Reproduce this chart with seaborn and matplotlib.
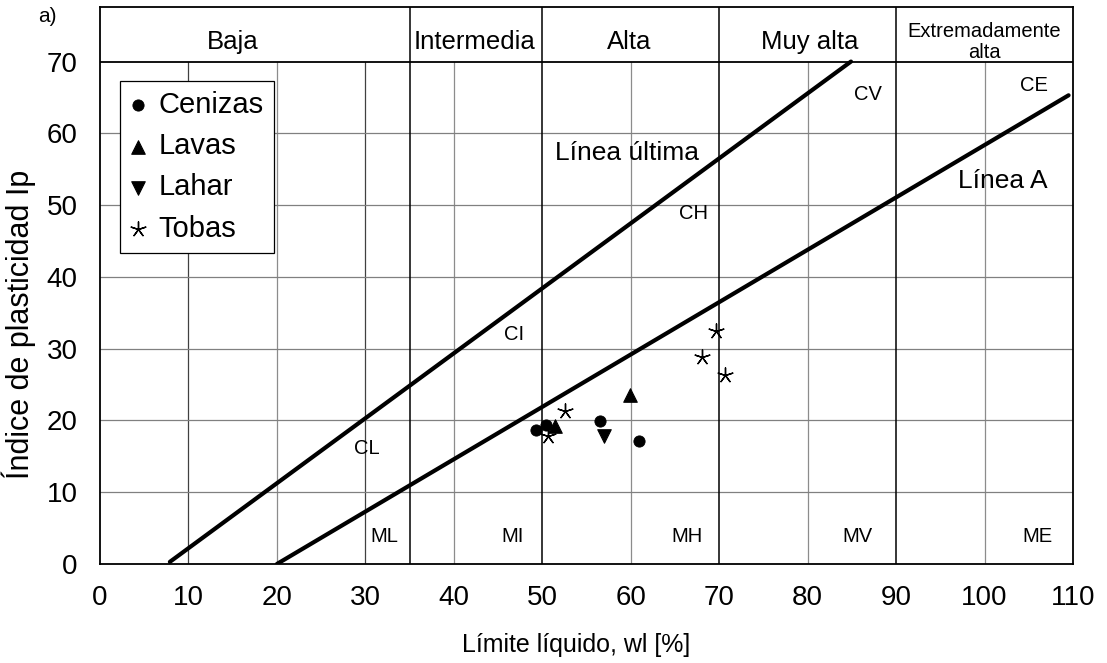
import numpy as np
import pandas as pd
import matplotlib
matplotlib.use("Agg")
import matplotlib.pyplot as plt
import matplotlib.ticker as mticker
import seaborn as sns

# Data
cenizas_wl = [49.3, 50.4, 56.5, 60.9]
cenizas_ip = [18.7, 19.3, 19.9, 17.2]
lavas_wl = [51.4, 59.9]
lavas_ip = [19.2, 23.6]
lahar_wl = [57.0]
lahar_ip = [17.8]
tobas_wl = [50.7, 52.6, 69.6, 68.1, 70.7]
tobas_ip = [17.8, 21.3, 32.5, 28.9, 26.4]

# Reference lines (end points)
linea_ultima_wl = [7.9, 84.9]
linea_ultima_ip = [0.3, 70]
linea_a_wl = [20, 109.5]
linea_a_ip = [0, 65.3]

zone_bounds = [35, 50, 70, 90]
zone_names = ["Baja", "Intermedia", "Alta", "Muy alta", "Extremadamente\nalta"]
zone_centers = [15, 42.3, 59.8, 80.2, 100]

soil_labels = ["CV", "CE", "CH", "CI", "CL", "ML", "MI", "MH", "MV", "ME"]
soil_x = [86.8, 105.6, 67.1, 46.8, 30.2, 32.1, 46.6, 66.4, 85.6, 106.0]
soil_y = [65.4, 66.6, 48.9, 32.0, 16.1, 3.8, 3.8, 3.8, 3.8, 3.8]

sns.set_style("white")
plt.rcParams['font.family'] = ['Liberation Sans', 'DejaVu Sans']
plt.rcParams['text.color'] = 'black'
plt.rcParams['axes.labelcolor'] = 'black'
plt.rcParams['xtick.color'] = 'black'
plt.rcParams['ytick.color'] = 'black'

fig = plt.figure(figsize=(11.07, 6.63), dpi=100)
ax = fig.add_axes([100 / 1107, 99 / 663, 973 / 1107, 557 / 663])

ymax = 77.6
ax.set_xlim(0, 110)
ax.set_ylim(0, ymax)

# Grid inside the data area
for gx in [10, 20, 30, 40, 60, 80, 100]:
    gc = '0.25' if gx in (10, 30) else '0.55'
    ax.plot([gx, gx], [0, 70], color=gc, lw=0.9, zorder=1)
for gy in [10, 20, 30, 40, 50, 60]:
    ax.plot([0, 110], [gy, gy], color='0.5', lw=0.9, zorder=1)

# Zone boundaries and header
for b in zone_bounds:
    ax.plot([b, b], [0, ymax], color='black', lw=1.1, zorder=2)
ax.plot([0, 110], [70, 70], color='black', lw=1.3, zorder=2)
for name, cx in zip(zone_names, zone_centers):
    fs = 14.5 if "\n" in name else 18.5
    ax.text(cx, 72.7, name, ha='center', va='center', fontsize=fs,
            linespacing=1.1)

# Plasticity lines
sns.lineplot(x=linea_ultima_wl, y=linea_ultima_ip, color='black', lw=3, ax=ax, zorder=3)
sns.lineplot(x=linea_a_wl, y=linea_a_ip, color='black', lw=3, ax=ax, zorder=3)
ax.text(59.6, 57.3, "Línea última", ha='center', va='center', fontsize=19)
ax.text(102.1, 53.3, "Línea A", ha='center', va='center', fontsize=19)

for lab, x, y in zip(soil_labels, soil_x, soil_y):
    ax.text(x, y, lab, ha='center', va='center', fontsize=14.5)

# Samples
sns.scatterplot(x=cenizas_wl, y=cenizas_ip, marker='o', s=65, color='black',
                edgecolor='black', label='Cenizas', ax=ax, zorder=4)
sns.scatterplot(x=lavas_wl, y=lavas_ip, marker='^', s=95, color='black',
                edgecolor='black', label='Lavas', ax=ax, zorder=4)
sns.scatterplot(x=lahar_wl, y=lahar_ip, marker='v', s=95, color='black',
                edgecolor='black', label='Lahar', ax=ax, zorder=4)
sns.scatterplot(x=tobas_wl, y=tobas_ip, marker=(5, 2, 0), s=120, color='black',
                linewidth=1, label='Tobas', ax=ax, zorder=4)

leg = ax.legend(loc='upper left', bbox_to_anchor=(2.3, 67.3), bbox_transform=ax.transData,
                borderaxespad=0, fontsize=21, frameon=True, fancybox=False,
                edgecolor='black', framealpha=1, handlelength=0.5,
                handletextpad=0.45, labelspacing=0.45, borderpad=0.35)
leg.get_frame().set_linewidth(0.9)

# Axes and ticks
ax.set_xticks(np.arange(0, 111, 10))
ax.set_xticks(np.arange(5, 110, 10), minor=True)
ax.set_yticks(np.arange(0, 71, 10))
ax.set_yticks(np.arange(5, 70, 10), minor=True)
ax.tick_params(axis='both', which='major', direction='in', length=10, width=1,
               labelsize=20, color='black')
ax.tick_params(axis='both', which='minor', direction='in', length=5, width=1, color='black')
ax.tick_params(axis='x', which='major', pad=15)
ax.tick_params(axis='y', which='major', pad=16)
for sp in ax.spines.values():
    sp.set_color('black')
    sp.set_linewidth(1.3)

ax.set_xlabel("Límite líquido, wl [%]", fontsize=18)
ax.set_ylabel("Índice de plasticidad Ip", fontsize=22)
ax.xaxis.set_label_coords(0.489, -0.124)
ax.yaxis.set_label_coords(-0.066, 0.43)
fig.text(47 / 1107, 1 - 17 / 663, "a)", ha='center', va='center', fontsize=15)

fig.savefig("out.png", dpi=100)
